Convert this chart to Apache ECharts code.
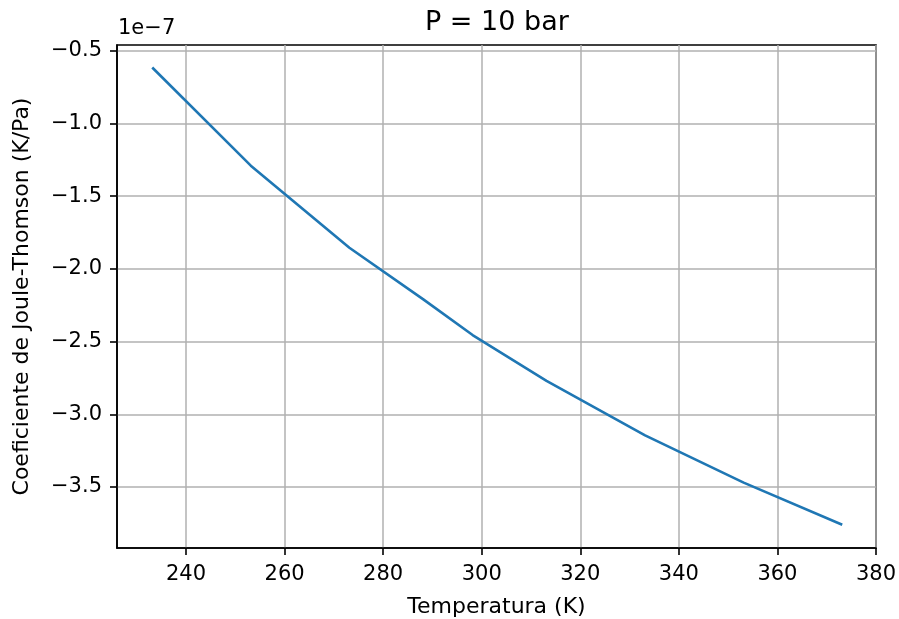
<!DOCTYPE html>
<html>
<head>
<meta charset="utf-8">
<script src="https://cdn.jsdelivr.net/npm/echarts@6/dist/echarts.min.js"></script>
<style>
  html, body { margin: 0; padding: 0; background: #fff; }
  #chart { width: 899px; height: 619px; }
</style>
</head>
<body>
<div id="chart"></div>
<script>
// Joule-Thomson coefficient vs temperature at 10 bar (values in units of 1e-7 K/Pa)
const temperatures = [233.15, 253.15, 273.15, 288.15, 298.15, 313.15, 333.15, 353.15, 373.15];
const jtCoefficient = [-0.615, -1.29, -1.855, -2.21, -2.455, -2.77, -3.145, -3.47, -3.76];

const xTicks = [240, 260, 280, 300, 320, 340, 360, 380];
const yTicks = [-3.5, -3.0, -2.5, -2.0, -1.5, -1.0, -0.5];

const FONT = 'DejaVu Sans';
const chart = echarts.init(document.getElementById('chart'), null, { renderer: 'canvas' });

const fmtY = v => (v < 0 ? '\u2212' : '') + Math.abs(v).toFixed(1);

const axisCommon = {
  axisLine: { show: true, onZero: false, lineStyle: { color: '#000', width: 1.6 } },
  axisTick: { show: true, inside: false, length: 7, lineStyle: { color: '#000', width: 1.6 } },
  splitLine: { show: true, lineStyle: { color: '#b0b0b0', width: 1.5 } },
  nameLocation: 'middle',
  nameTextStyle: { fontFamily: FONT, fontSize: 22, color: '#000' }
};

chart.setOption({
  animation: false,
  backgroundColor: '#fff',
  grid: { left: 117, top: 45, right: 23, bottom: 71, containLabel: false,
          outerBoundsMode: 'none',
          show: true, borderColor: '#000', borderWidth: 1.6 },
  xAxis: Object.assign({}, axisCommon, {
    type: 'value', min: 226, max: 380,
    name: 'Temperatura (K)', nameGap: 48,
    axisTick: Object.assign({}, axisCommon.axisTick, { customValues: xTicks }),
    axisLabel: { customValues: xTicks, margin: 16, fontFamily: FONT, fontSize: 21, color: '#000' }
  }),
  yAxis: Object.assign({}, axisCommon, {
    type: 'value', min: -3.92, max: -0.46,
    name: 'Coeficiente de Joule-Thomson (K/Pa)', nameGap: 84,
    axisTick: Object.assign({}, axisCommon.axisTick, { customValues: yTicks }),
    axisLabel: { customValues: yTicks, margin: 15, fontFamily: FONT, fontSize: 21, color: '#000',
                 formatter: fmtY }
  }),
  graphic: [
    { type: 'text', left: 425, top: 9,
      style: { text: 'P = 10 bar', fontFamily: FONT, fontSize: 27, fill: '#000' } },
    { type: 'text', left: 118, top: 18,
      style: { text: '1e\u22127', fontFamily: FONT, fontSize: 21, fill: '#000' } }
  ],
  series: [{
    type: 'line',
    data: temperatures.map((t, i) => [t, jtCoefficient[i]]),
    showSymbol: false,
    lineStyle: { color: '#1f77b4', width: 2.6 },
    clip: false
  }]
});
</script>
</body>
</html>
